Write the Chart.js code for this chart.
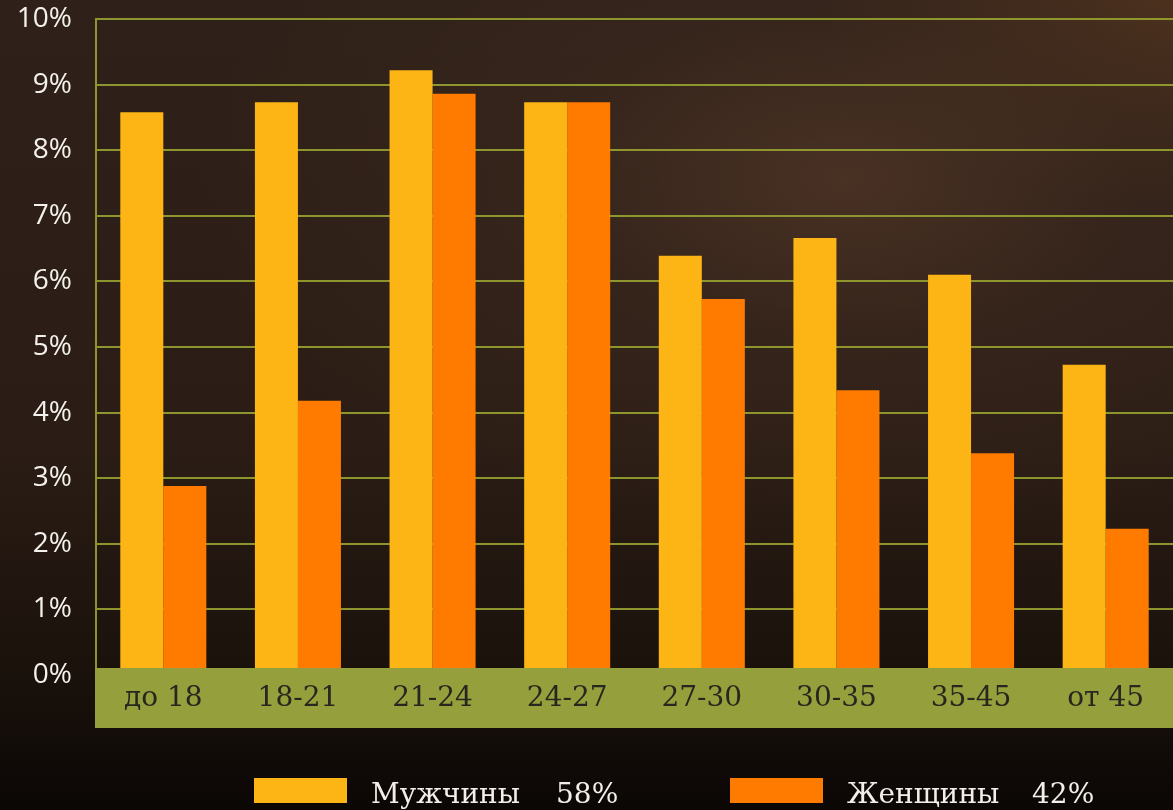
<!DOCTYPE html>
<html lang="ru">
<head>
<meta charset="utf-8">
<title>Возраст игроков</title>
<script src="https://cdn.jsdelivr.net/npm/chart.js@4.4.1/dist/chart.umd.min.js"></script>
<style>
  html, body { margin: 0; padding: 0; }
  body {
    width: 1173px; height: 810px; overflow: hidden;
    background:
      radial-gradient(ellipse 55% 45% at 72% 22%, rgba(78,52,38,0.85) 0%, rgba(62,42,31,0.5) 45%, rgba(0,0,0,0) 100%),
      radial-gradient(ellipse 30% 25% at 100% 0%, rgba(90,56,30,0.8) 0%, rgba(0,0,0,0) 100%),
      linear-gradient(to bottom, #2f2119 0%, #2b1d15 55%, #1b120c 82%, #0b0705 100%);
  }
  #wrap { position: relative; width: 1173px; height: 810px; }
</style>
</head>
<body>
<div id="wrap"><canvas id="chart" width="1173" height="810"></canvas></div>
<script>
// данные
const categories = ["до 18", "18-21", "21-24", "24-27", "27-30", "30-35", "35-45", "от 45"];
const menValues   = [8.58, 8.73, 9.22, 8.73, 6.39, 6.66, 6.10, 4.73];
const womenValues = [2.88, 4.18, 8.86, 8.73, 5.73, 4.34, 3.38, 2.23];
const seriesNames  = ["Мужчины", "Женщины"];
const seriesShares = ["58%", "42%"];
const yTicks = [0, 1, 2, 3, 4, 5, 6, 7, 8, 9, 10];

const COLORS = ["#fdb515", "#ff7b00"];
const GRID = "rgba(150,160,48,0.92)";
const BAND = "#95a03c";

// оливковая полоса под осью X (поверх низа столбиков)
const bandPlugin = {
  id: "band",
  afterDatasetsDraw(chart){
    const { ctx, chartArea } = chart;
    ctx.save();
    ctx.fillStyle = BAND;
    ctx.fillRect(chartArea.left - 1, chartArea.bottom - 7, chartArea.right - chartArea.left + 1, 60);
    ctx.restore();
  }
};

// легенда внизу
const legendPlugin = {
  id: "bottomLegend",
  afterDraw(chart){
    const ctx = chart.ctx;
    const items = [
      { box: 254, text: 371, share: 556 },
      { box: 730, text: 847, share: 1032 }
    ];
    ctx.save();
    ctx.font = "28px 'DejaVu Serif'";
    ctx.textBaseline = "alphabetic";
    ctx.textAlign = "left";
    items.forEach((it, i) => {
      ctx.fillStyle = COLORS[i];
      ctx.fillRect(it.box, 778, 93, 25);
      ctx.fillStyle = "#f3efe8";
      ctx.fillText(seriesNames[i], it.text, 803);
      ctx.fillText(seriesShares[i], it.share, 803);
    });
    ctx.restore();
  }
};

new Chart(document.getElementById("chart"), {
  type: "bar",
  data: {
    labels: categories,
    datasets: [
      { label: seriesNames[0], data: menValues, backgroundColor: COLORS[0], borderWidth: 0 },
      { label: seriesNames[1], data: womenValues, backgroundColor: COLORS[1], borderWidth: 0 }
    ]
  },
  options: {
    responsive: false,
    animation: false,
    layout: { padding: { top: 19, right: 0, bottom: 0, left: 0 } },
    datasets: { bar: { categoryPercentage: 0.639, barPercentage: 1.0 } },
    plugins: { legend: { display: false }, tooltip: { enabled: false } },
    scales: {
      x: {
        grid: { display: false, drawTicks: false },
        border: { display: false },
        ticks: {
          z: 1,
          padding: 7,
          color: "#27271f",
          font: { family: "DejaVu Serif", size: 28 }
        },
        afterFit(scale){
          scale.height = 135;
          scale.paddingLeft = 0;
          scale.paddingRight = 0;
        }
      },
      y: {
        min: 0,
        max: 10,
        afterBuildTicks(scale){ scale.ticks = yTicks.map(v => ({ value: v })); },
        grid: { color: GRID, lineWidth: 2, drawTicks: false },
        border: { color: GRID, width: 2 },
        ticks: {
          padding: 24,
          color: "#f4f1ec",
          font: { family: "Open Sans", size: 28 },
          callback: v => v + "%"
        },
        afterFit(scale){
          scale.width = 96;
          scale.paddingTop = 0;
          scale.paddingBottom = 0;
        }
      }
    }
  },
  plugins: [bandPlugin, legendPlugin]
});
</script>
</body>
</html>
